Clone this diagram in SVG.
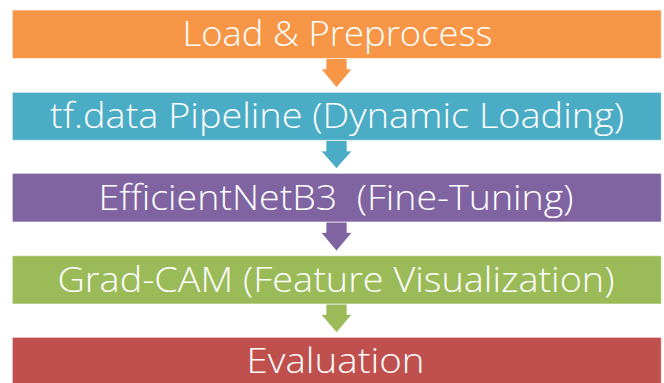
<svg xmlns="http://www.w3.org/2000/svg" width="664" height="383" viewBox="0 0 664 383">
  <style>
    .box { stroke: #ffffff; stroke-opacity: 0.6; stroke-width: 1; }
    .lbl { font-family: "Open Sans", "Lato", "Liberation Sans", sans-serif; font-weight: 300; font-size: 34px; fill: #ffffff; text-anchor: middle; }
    .arr { stroke: #ffffff; stroke-opacity: 0.7; stroke-width: 1; }
  </style>
  <rect width="664" height="383" fill="#ffffff"/>
  <g id="connectors">
    <path class="arr" fill="#F79646" d="M326,58.5 L347,58.5 L347,69 L352,69 L336.5,87.5 L321,69 L326,69 Z"/>
    <path class="arr" fill="#4BACC6" d="M326,140.5 L347,140.5 L347,151 L352,151 L336.5,168.5 L321,151 L326,151 Z"/>
    <path class="arr" fill="#8064A2" d="M326,222 L347,222 L347,232.5 L352,232.5 L336.5,251 L321,232.5 L326,232.5 Z"/>
    <path class="arr" fill="#9BBB59" d="M326,304 L347,304 L347,314.5 L352,314.5 L336.5,332.5 L321,314.5 L326,314.5 Z"/>
  </g>
  <g id="load">
    <rect class="box" x="12.3" y="10" width="649" height="48.5" fill="#F79646"/>
    <text class="lbl" x="337.5" y="46" textLength="310" lengthAdjust="spacingAndGlyphs">Load &amp; Preprocess</text>
  </g>
  <g id="pipeline">
    <rect class="box" x="12.3" y="92.3" width="649" height="48" fill="#4BACC6"/>
    <text class="lbl" x="337" y="128" textLength="574" lengthAdjust="spacingAndGlyphs">tf.data Pipeline (Dynamic Loading)</text>
  </g>
  <g id="efficientnet">
    <rect class="box" x="12.3" y="173.3" width="649" height="48.7" fill="#8064A2"/>
    <text class="lbl" x="336" y="209.5" textLength="475" lengthAdjust="spacingAndGlyphs" xml:space="preserve">EfficientNetB3  (Fine-Tuning)</text>
  </g>
  <g id="gradcam">
    <rect class="box" x="12.3" y="255.7" width="649" height="48.3" fill="#9BBB59"/>
    <text class="lbl" x="336" y="291.5" textLength="557" lengthAdjust="spacingAndGlyphs">Grad-CAM (Feature Visualization)</text>
  </g>
  <g id="evaluation">
    <rect class="box" x="12.3" y="337.3" width="649" height="50" fill="#C0504D"/>
    <text class="lbl" x="335.5" y="373" textLength="178" lengthAdjust="spacingAndGlyphs">Evaluation</text>
  </g>
</svg>
